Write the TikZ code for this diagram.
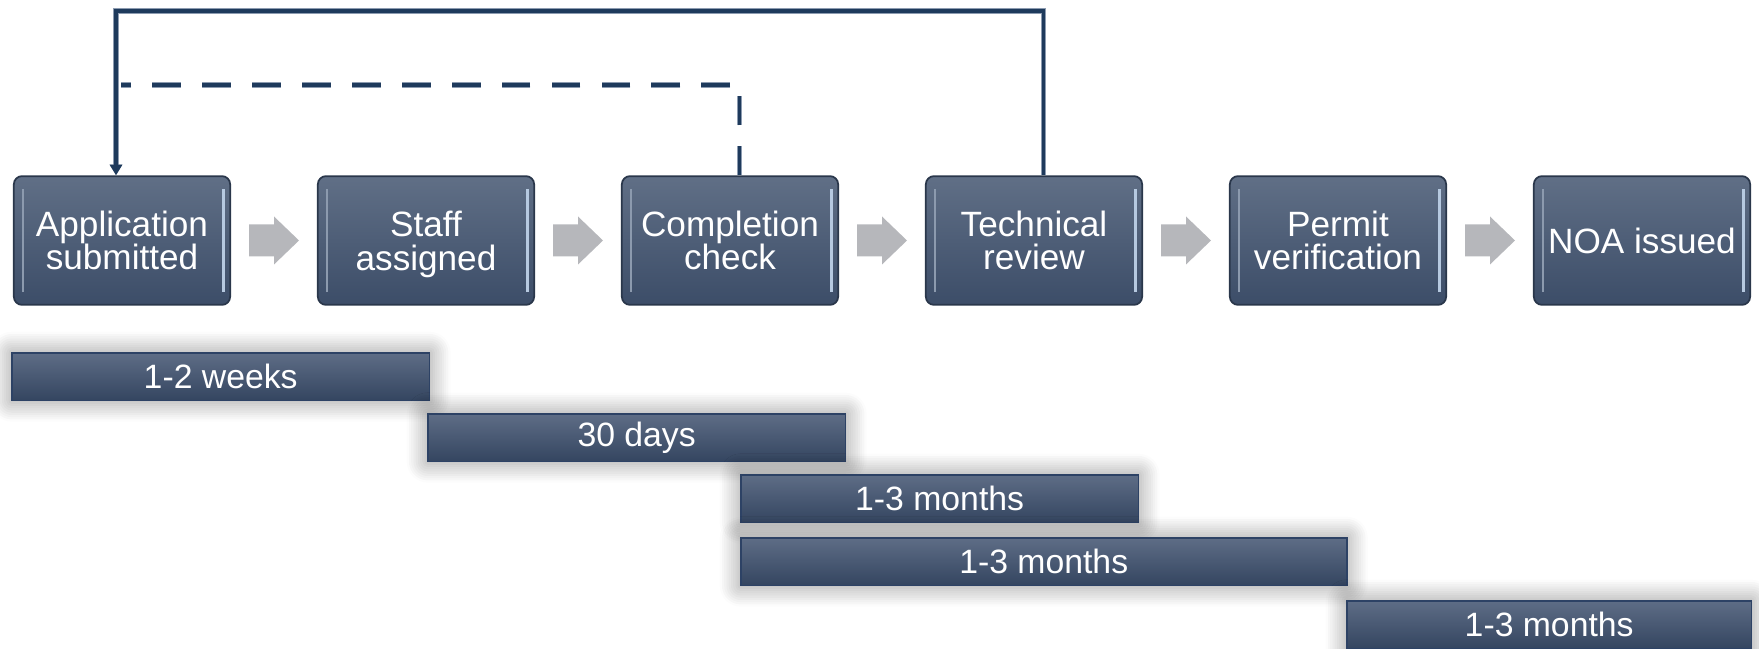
\documentclass[tikz,border=0pt]{standalone}
\usepackage{fontspec}
\setmainfont{Liberation Sans}
\usetikzlibrary{calc,arrows.meta,shadows.blur}
\definecolor{navy}{RGB}{30,58,92}
\definecolor{halo}{RGB}{140,155,176}
\definecolor{boxtop}{RGB}{96,111,134}
\definecolor{boxbot}{RGB}{60,77,104}
\definecolor{boxborder}{RGB}{42,55,75}
\definecolor{hlL}{RGB}{140,154,174}
\definecolor{hlR}{RGB}{182,201,224}
\definecolor{arrowgray}{RGB}{182,183,187}
\definecolor{bartop}{RGB}{94,109,134}
\definecolor{barbot}{RGB}{52,69,96}
\definecolor{barborder}{RGB}{45,66,101}
\begin{document}
\begin{tikzpicture}[x=0.01cm,y=-0.01cm,
  stepbox/.style={draw=boxborder, line width=0.5pt, rounded corners=2.3pt,
    top color=boxtop, bottom color=boxbot,
    minimum width=61.5pt, minimum height=36.6pt, inner sep=0pt,
    text=white, align=center, font=\fontsize{10}{9.6}\selectfont,
    path picture={
      \draw[line width=0.7pt, hlL] ([xshift=2.6pt,yshift=3.6pt]path picture bounding box.south west) -- ([xshift=2.6pt,yshift=-3.6pt]path picture bounding box.north west);
      \draw[line width=1pt, hlR] ([xshift=-1.9pt,yshift=3.6pt]path picture bounding box.south east) -- ([xshift=-1.9pt,yshift=-3.6pt]path picture bounding box.north east);
    }},
  durbar/.style={draw=barborder, line width=0.45pt,
    top color=bartop, bottom color=barbot,
    minimum height=13.6pt, inner sep=0pt, anchor=north west,
    text=white, font=\fontsize{9.6}{10}\selectfont,
    blur shadow={shadow xshift=0pt, shadow yshift=0pt, shadow blur radius=6pt, shadow opacity=45, shadow blur steps=10}},
  conn/.style={draw=navy, line width=0.9pt, preaction={draw=halo, line width=1.5pt}},
  dashconn/.style={draw=navy, line width=0.9pt, dash pattern=on 8.2pt off 6pt,
    preaction={draw=halo, line width=1.5pt, dash pattern=on 8.2pt off 6pt}},
  garrow/.pic={\fill[arrowgray] (-25,-16) -- (0,-16) -- (0,-24) -- (25,0) -- (0,24) -- (0,16) -- (-25,16) -- cycle;}
]
\useasboundingbox (0,0) rectangle (1759,649);

% process steps
\node[stepbox] (app)    at (122,240.5)  {Application\\submitted};
\node[stepbox] (staff)  at (426,240.5)  {Staff\\\smash{assigned}};
\node[stepbox] (comp)   at (730,240.5)  {Completion\\check};
\node[stepbox] (tech)   at (1034,240.5) {Technical\\review};
\node[stepbox] (permit) at (1338,240.5) {Permit\\verification};
\node[stepbox] (noa)    at (1642,240.5) {NOA issued};

% gray block arrows
\pic at ($(app.east)!0.5!(staff.west)$) {garrow};
\pic at ($(staff.east)!0.5!(comp.west)$) {garrow};
\pic at ($(comp.east)!0.5!(tech.west)$) {garrow};
\pic at ($(tech.east)!0.5!(permit.west)$) {garrow};
\pic at ($(permit.east)!0.5!(noa.west)$) {garrow};

% feedback connectors
\coordinate (solidtop) at (0,11);
\coordinate (techout) at ([xshift=2.6pt]tech.north);
\coordinate (appin) at ([xshift=-1.7pt]app.north);
\draw[conn, -{Triangle[length=3pt,width=3.4pt]}] (techout) -- (techout |- solidtop) -- (appin |- solidtop) -- (appin);

\coordinate (compout) at ([xshift=2.8pt]comp.north);
\coordinate (dashend) at (121,85);
\draw[dashconn] (compout) -- (compout |- dashend) -- (dashend);

% duration bars
\node[durbar, minimum width=118.8pt] (d1) at (11,352)   {1-2 weeks};
\node[durbar, minimum width=118.8pt] (d2) at (427,413)  {30 days};
\node[durbar, minimum width=113.1pt] (d3) at (740,474)  {1-3 months};
\node[durbar, minimum width=172.3pt] (d4) at (740,537)  {1-3 months};
\node[durbar, minimum width=115.1pt] (d5) at (1346,600) {1-3 months};
\end{tikzpicture}
\end{document}
